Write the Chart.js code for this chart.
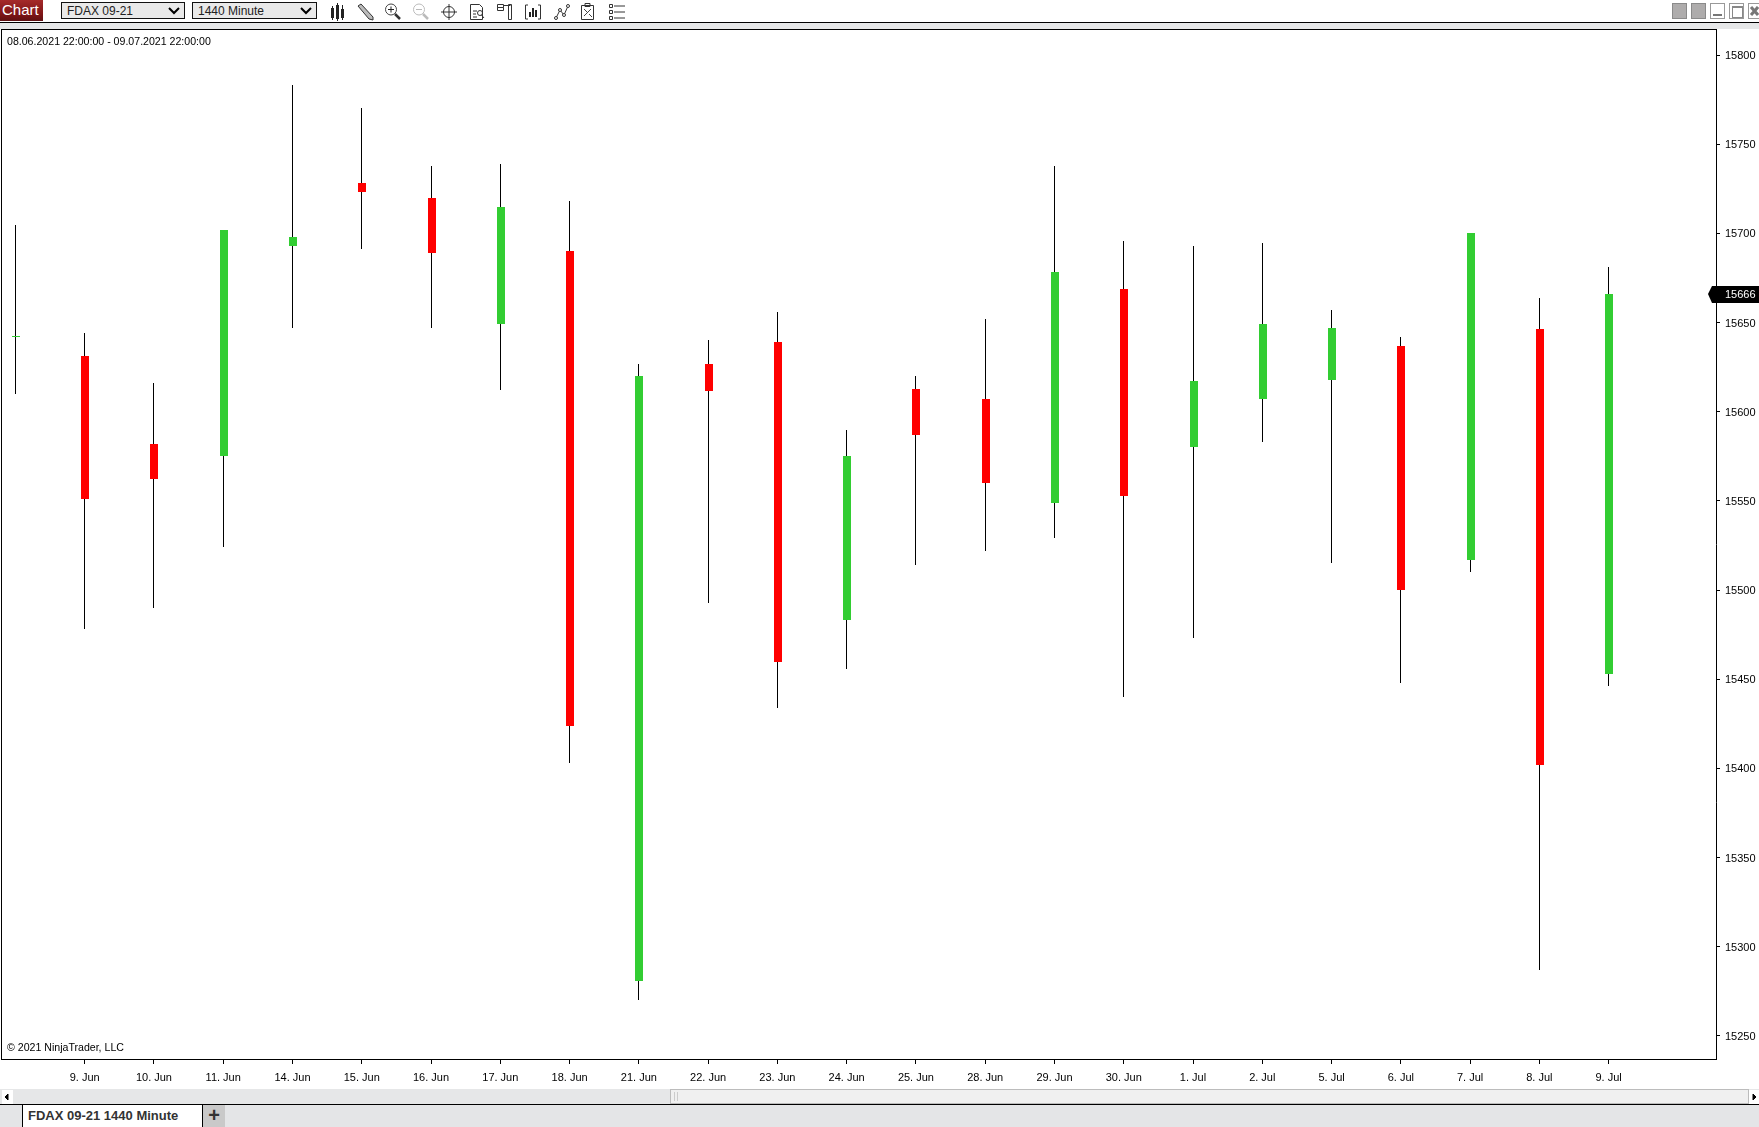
<!DOCTYPE html>
<html>
<head>
<meta charset="utf-8">
<title>FDAX 09-21 1440 Minute</title>
<script src="https://cdn.jsdelivr.net/npm/chart.js"></script>
<style>
  html, body { margin: 0; padding: 0; background: #fff; overflow: hidden; }
  body { width: 1759px; height: 1127px; position: relative; font-family: "Liberation Sans", Arial, sans-serif; color: #000; }
  .abs { position: absolute; }
  #chart { position: absolute; left: 0; top: 0; width: 1759px; height: 1127px; }
  #strip { left: 0; top: 22px; width: 1759px; height: 6px; background: #e6e7e8; border-top: 1px solid #000; }
  #btn { left: 0; top: 0; width: 43px; height: 21px; background: linear-gradient(#a52a2a, #7c1416 70%, #5e1012); color: #fff; font-size: 15px; line-height: 20px; padding-left: 2px; box-sizing: border-box; }
  .sel { top: 2px; height: 17px; border: 1px solid #111; box-sizing: border-box; font-size: 12px; line-height: 17px; padding-left: 5px; background: #e9e9e9; color: #222; }
  .sel svg { position: absolute; right: 4px; top: 4px; }
  .icon { position: absolute; top: 2px; width: 18px; height: 19px; }
  .win { position: absolute; top: 3px; height: 16px; box-sizing: border-box; }
  .win.fill { width: 15px; background: #aeacac; border: 1px solid #8a8a8a; }
  .win.line { width: 15px; background: #fff; border: 1px solid #999; }
  .lbl { font-size: 10.6px; line-height: 12px; white-space: nowrap; color: #000; }
  #scroll { left: 0; top: 1089px; width: 1759px; height: 15px; background: #e6e7e8; }
  #thumb { left: 670px; top: 1089px; width: 1079px; height: 15px; box-sizing: border-box; background: #f0f0f0; border: 1px solid #bcbcbc; }
  #footer { left: 0; top: 1104px; width: 1759px; height: 23px; box-sizing: border-box; background: #e4e5e7; border-top: 1px solid #000; }
  #tab { left: 22px; top: 1104px; width: 181px; height: 23px; box-sizing: border-box; background: #fff; border: 1px solid #000; border-bottom: 0; font-size: 13px; font-weight: bold; line-height: 22px; padding-left: 5px; color: #333; white-space: nowrap; }
  #plus { left: 203px; top: 1105px; width: 22px; height: 22px; background: #c9c9c9; font-size: 20px; font-weight: bold; line-height: 21px; text-align: center; color: #333; }
</style>
</head>
<body>

<!-- Chart.js canvas, the window chrome sits around it -->
<canvas id="chart" width="1759" height="1127"></canvas>

<div class="abs" id="strip"></div>
<div class="abs" id="btn">Chart</div>
<div class="abs sel" style="left:61px;width:124px">FDAX 09-21<svg width="12" height="8"><path d="M1 1 L6 6 L11 1" fill="none" stroke="#000" stroke-width="2"/></svg></div>
<div class="abs sel" style="left:192px;width:125px">1440 Minute<svg width="12" height="8"><path d="M1 1 L6 6 L11 1" fill="none" stroke="#000" stroke-width="2"/></svg></div>

<!-- toolbar icons -->
<svg class="icon" style="left:328px" viewBox="0 0 18 19"><path d="M3 6h3v10H3zM8 3h3v14H8zM13 7h3v9h-3z" fill="#222"/><path d="M4.5 4v14M9.500 1v18M14.500 3v15" stroke="#222"/></svg>
<svg class="icon" style="left:356px" viewBox="0 0 18 19"><path d="M2 4 L5 2 L17 15 L17 18 L13 17 Z" fill="#bbb" stroke="#333"/></svg>
<svg class="icon" style="left:384px" viewBox="0 0 18 19"><circle cx="7" cy="7.500" r="5.500" fill="none" stroke="#444"/><path d="M4 7.500h6M7 4.500v6" stroke="#222"/><path d="M11 12 L16 17" stroke="#333" stroke-width="2.500"/></svg>
<svg class="icon" style="left:412px" viewBox="0 0 18 19"><circle cx="7" cy="7.500" r="5.500" fill="none" stroke="#bbb"/><path d="M4 7.500h6" stroke="#bbb"/><path d="M11 12 L16 17" stroke="#bbb" stroke-width="2.500"/></svg>
<svg class="icon" style="left:440px" viewBox="0 0 18 19"><circle cx="9" cy="10" r="5.500" fill="none" stroke="#333"/><path d="M9 2v16M1 10h16" stroke="#333"/></svg>
<svg class="icon" style="left:468px" viewBox="0 0 18 19"><path d="M2.500 2.500h9l3 3v12h-12z" fill="none" stroke="#333"/><path d="M5 9h4M5 12h3M5 15h4" stroke="#333"/><circle cx="12" cy="11" r="2.500" fill="none" stroke="#333"/><path d="M13.500 13 L16 16" stroke="#333"/></svg>
<svg class="icon" style="left:496px" viewBox="0 0 18 19"><path d="M1.500 2.500h6v3h-6zM1.500 5.500h6v3h-6zM7.500 3.500h7M12.500 2.500h3v15h-3z" fill="none" stroke="#333"/></svg>
<svg class="icon" style="left:524px" viewBox="0 0 18 19"><path d="M4 3H1.500v14H4M14 3h2.500v14H14" fill="none" stroke="#333"/><path d="M5 10h2v5H5zM8 6h2v9H8zM11 8h2v7h-2z" fill="#222"/></svg>
<svg class="icon" style="left:553px" viewBox="0 0 18 19"><path d="M3 16 L7 8 L11 13 L15 4" fill="none" stroke="#333"/><circle cx="3" cy="16" r="1.500" fill="#fff" stroke="#333"/><circle cx="7" cy="8" r="1.500" fill="#fff" stroke="#333"/><circle cx="11" cy="13" r="1.500" fill="#fff" stroke="#333"/><circle cx="15" cy="4" r="1.500" fill="#fff" stroke="#333"/></svg>
<svg class="icon" style="left:579px" viewBox="0 0 18 19"><path d="M2.500 3.500h12v14h-12zM6 1.500h5v3H6z" fill="#fff" stroke="#333"/><path d="M5 14 L12 7M5 7l3 3M10 12l3 3" stroke="#444"/></svg>
<svg class="icon" style="left:608px" viewBox="0 0 18 19"><path d="M1.500 2.500h3v3h-3zM1.500 8.500h3v3h-3zM1.500 14.500h3v3h-3z" fill="none" stroke="#333"/><path d="M6 4h11M6 10h11M6 16h11" stroke="#333"/></svg>

<!-- window buttons -->
<div class="win fill" style="left:1672px"></div>
<div class="win fill" style="left:1691px"></div>
<div class="win line" style="left:1710px"><div class="abs" style="left:2px;top:10px;width:9px;height:2px;background:#777"></div></div>
<div class="win line" style="left:1729px"><div class="abs" style="left:2px;top:2px;width:9px;height:9px;border:1px solid #888;border-top-width:2px"></div></div>
<div class="win line" style="left:1748px;width:11px;border-right:0"><svg width="10" height="14"><path d="M2 3 L9 11 M9 3 L2 11" stroke="#777" stroke-width="3"/></svg></div>

<div class="abs lbl" style="left:7px;top:35px">08.06.2021 22:00:00 - 09.07.2021 22:00:00</div>
<div class="abs lbl" style="left:7px;top:1041px">© 2021 NinjaTrader, LLC</div>

<!-- scrollbar and tab row -->
<div class="abs" id="scroll"></div>
<div class="abs" style="left:2px;top:1090px;width:11px;height:14px;background:#fff"><svg width="11" height="14"><path d="M6 4 L3 7 L6 10 Z" fill="#000" stroke="#000"/></svg></div>
<div class="abs" id="thumb"><div class="abs" style="left:3px;top:2px;width:2px;height:9px;border-left:1px solid #ccc;border-right:1px solid #ccc"></div></div>
<div class="abs" style="left:1749px;top:1090px;width:10px;height:14px;background:#fff"><svg width="10" height="14"><path d="M4 4 L7 7 L4 10 Z" fill="#000" stroke="#000"/></svg></div>
<div class="abs" id="footer"></div>
<div class="abs" id="tab">FDAX 09-21 1440 Minute</div>
<div class="abs" id="plus">+</div>

<script>
// ── Data ──
var days = ['', '9. Jun', '10. Jun', '11. Jun', '14. Jun', '15. Jun', '16. Jun', '17. Jun', '18. Jun', '21. Jun', '22. Jun', '23. Jun',
            '24. Jun', '25. Jun', '28. Jun', '29. Jun', '30. Jun', '1. Jul', '2. Jul', '5. Jul', '6. Jul', '7. Jul', '8. Jul', '9. Jul'];
var opens  = [15642, 15631, 15582, 15575, 15693, 15728, 15720, 15649, 15690, 15281, 15627, 15639,
              15483, 15613, 15607, 15549, 15669, 15580, 15607, 15618, 15637, 15517, 15646.5, 15453];
var closes = [15642, 15551, 15562.5, 15702, 15698, 15723, 15689, 15715, 15424, 15620, 15611.5, 15459.5,
              15575, 15587, 15560, 15678.5, 15552.5, 15617, 15649, 15647, 15500, 15700, 15402, 15666];
var highs  = [15704.5, 15644, 15616, 15702, 15783, 15770.5, 15738, 15739, 15718, 15627, 15640, 15656,
              15590, 15620, 15652, 15738, 15696, 15693, 15694.5, 15657, 15642, 15700, 15664, 15681];
var lows   = [15610, 15478, 15490, 15524, 15647, 15691, 15647, 15612, 15403, 15270, 15493, 15434,
              15456, 15514, 15522, 15529, 15440, 15473, 15583, 15515, 15448, 15510, 15287, 15446];
var lastPrice = 15666;

var UP = '#32cd32', DOWN = '#ff0000';
var AXIS_FONT = { family: '"Liberation Sans", Arial, sans-serif', size: 11 };

// ── Plugins ──
// bars land on fractional pixels, snap them so the wicks stay 1px and crisp
var snapBars = {
  id: 'snapBars',
  beforeDatasetsDraw: function(chart) {
    chart.data.datasets.forEach(function(ds, i) {
      chart.getDatasetMeta(i).data.forEach(function(el) {
        var px = Math.floor(el.x);
        el.x = ds.label === 'body' ? px + 1 : px + 0.5;
        el.y = Math.round(el.y);
        el.base = Math.round(el.base);
        if (el.y === el.base) el.base = el.y + 1;
      });
    });
  }
};

// left + top frame lines and the last price tag
var frame = {
  id: 'frame',
  afterDraw: function(chart) {
    var c = chart.ctx, a = chart.chartArea;
    c.save();
    c.fillStyle = '#000';
    c.fillRect(a.left, a.top, a.right - a.left + 1, 1);
    c.fillRect(a.left, a.top, 1, a.bottom - a.top);

    var y = Math.round(chart.scales.y.getPixelForValue(lastPrice));
    c.beginPath();
    c.moveTo(1708, y);
    c.lineTo(1712, y - 8);
    c.lineTo(1759, y - 8);
    c.lineTo(1759, y + 9);
    c.lineTo(1712, y + 9);
    c.closePath();
    c.fill();
    c.fillStyle = '#fff';
    c.font = '11px "Liberation Sans", Arial, sans-serif';
    c.textBaseline = 'middle';
    c.fillText(String(lastPrice), 1725, y + 1);
    c.restore();
  }
};

// ── Chart ──
new Chart(document.getElementById('chart').getContext('2d'), {
  type: 'bar',
  plugins: [snapBars, frame],
  data: {
    datasets: [
      {
        label: 'body',
        data: days.map(function(d, i) { return { x: i, y: [opens[i], closes[i]] }; }),
        backgroundColor: closes.map(function(v, i) { return v >= opens[i] ? UP : DOWN; }),
        barThickness: 8,
        minBarLength: 1,
        inflateAmount: 0,
        grouped: false,
        order: 1
      },
      {
        label: 'wick',
        data: days.map(function(d, i) { return { x: i, y: [lows[i], highs[i]] }; }),
        backgroundColor: '#000',
        barThickness: 1,
        inflateAmount: 0,
        grouped: false,
        order: 2
      }
    ]
  },
  options: {
    responsive: false,
    animation: false,
    devicePixelRatio: 1,
    layout: { padding: { left: 1, top: 29, right: 0, bottom: 38 } },
    plugins: { legend: { display: false }, tooltip: { enabled: false } },
    scales: {
      x: {
        type: 'linear',
        offset: false,
        min: -0.208,
        max: 24.55,
        afterBuildTicks: function(axis) {
          axis.ticks = axis.ticks.filter(function(t) { return t.value >= 1 && t.value < days.length; });
        },
        afterFit: function(axis) { axis.height = 30; },
        grid: { drawOnChartArea: false, tickLength: 5, tickColor: '#000', offset: false },
        border: { color: '#000' },
        ticks: {
          stepSize: 1,
          includeBounds: false,
          autoSkip: false,
          maxRotation: 0,
          padding: 7,
          color: '#000',
          font: AXIS_FONT,
          callback: function(v) { return days[v]; }
        }
      },
      y: {
        position: 'right',
        min: 15237.1,
        max: 15814.6,
        afterFit: function(axis) { axis.width = 43; },
        grid: { drawOnChartArea: false, tickLength: 4, tickColor: '#000' },
        border: { color: '#000' },
        ticks: {
          stepSize: 50,
          includeBounds: false,
          padding: 5,
          labelOffset: 1,
          color: '#000',
          font: AXIS_FONT,
          callback: function(v) { return String(v); }
        }
      }
    }
  }
});
</script>
</body>
</html>
